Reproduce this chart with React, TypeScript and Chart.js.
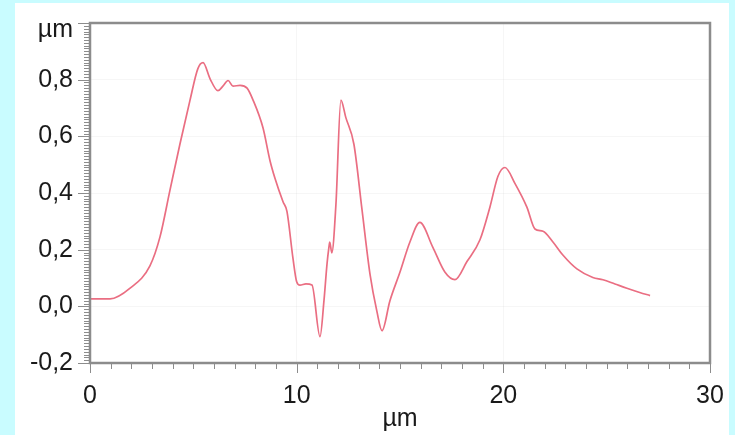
import React, { useEffect, useRef } from "react";
import { Chart, registerables } from "chart.js";

Chart.register(...registerables);

const xValues = [
  0, 0.97, 1.94, 2.9, 3.39, 3.87, 4.35, 4.84, 5.22, 5.47, 5.81, 6.19, 6.43, 6.68, 6.92, 7.26, 7.6, 7.89,
  8.37, 8.71, 8.95, 9.34, 9.53, 9.82, 10.0, 10.16, 10.45, 10.74, 11.13, 11.32, 11.47, 11.56, 11.6, 11.7,
  11.9, 12.14, 12.38, 12.77, 13.16, 13.55, 13.88, 14.13, 14.51, 15.0, 15.48, 15.96, 16.59, 17.17, 17.66,
  18.24, 18.87, 19.35, 19.74, 20.08, 20.56, 21.14, 21.53, 21.92, 22.4, 22.88, 23.56, 24.33, 24.82, 25.4,
  25.98, 26.6, 27.1,
];
const yValues = [
  0.026, 0.026, 0.064, 0.143, 0.246, 0.41, 0.572, 0.728, 0.839, 0.86, 0.803, 0.761, 0.777, 0.797, 0.777,
  0.78, 0.77, 0.728, 0.63, 0.514, 0.452, 0.369, 0.335, 0.17, 0.087, 0.075, 0.079, 0.075, -0.107, 0.019,
  0.151, 0.208, 0.227, 0.189, 0.36, 0.728, 0.666, 0.572, 0.342, 0.113, -0.017, -0.086, 0.019, 0.121, 0.227,
  0.296, 0.208, 0.121, 0.094, 0.158, 0.235, 0.35, 0.459, 0.49, 0.434, 0.35, 0.273, 0.265, 0.227, 0.181,
  0.132, 0.102, 0.094, 0.079, 0.064, 0.049, 0.038,
];

const xMin = 0;
const xMax = 30;
const xMajorStep = 10;
const xMinorStep = 1;
const yMin = -0.2;
const yMax = 1.0;
const yMajorStep = 0.2;
const yMinorStep = 0.01;
const unitLabel = "µm";

const FONT = "'Liberation Sans', Arial, sans-serif";
const AXIS_COLOR = "#8c8c8c";
const TEXT_COLOR = "#1a1a1a";

const frameAndTicks = {
  id: "frameAndTicks",
  afterDraw(chart: any) {
    const { ctx, chartArea, scales } = chart;
    const xs = scales.x;
    const ys = scales.y;
    ctx.save();
    ctx.strokeStyle = AXIS_COLOR;
    ctx.lineWidth = 1;
    const nY = Math.round((yMax - yMin) / yMinorStep);
    const majorEvery = Math.round(yMajorStep / yMinorStep);
    for (let i = 0; i <= nY; i++) {
      const v = yMin + i * yMinorStep;
      const py = Math.round(ys.getPixelForValue(v)) + 0.5;
      const len = i % majorEvery === 0 ? 12 : 6;
      ctx.beginPath();
      ctx.moveTo(chartArea.left - len, py);
      ctx.lineTo(chartArea.left, py);
      ctx.stroke();
    }
    const nX = Math.round((xMax - xMin) / xMinorStep);
    const xMajEvery = Math.round(xMajorStep / xMinorStep);
    for (let i = 0; i <= nX; i++) {
      const v = xMin + i * xMinorStep;
      const px = Math.round(xs.getPixelForValue(v)) + 0.5;
      const len = i % xMajEvery === 0 ? 10 : 6;
      ctx.beginPath();
      ctx.moveTo(px, chartArea.bottom);
      ctx.lineTo(px, chartArea.bottom + len);
      ctx.stroke();
    }
    ctx.lineWidth = 2.5;
    ctx.strokeRect(chartArea.left, chartArea.top, chartArea.right - chartArea.left, chartArea.bottom - chartArea.top);
    // unit label on top of the y axis
    ctx.fillStyle = TEXT_COLOR;
    ctx.font = `25px ${FONT}`;
    ctx.textAlign = "right";
    ctx.textBaseline = "middle";
    ctx.fillText(unitLabel, chartArea.left - 17, ys.getPixelForValue(yMax) + 7);
    ctx.restore();
  },
};

function App() {
  const canvasRef = useRef<HTMLCanvasElement | null>(null);

  useEffect(() => {
    if (!canvasRef.current) return;
    const points = xValues.map((x, i) => ({ x, y: yValues[i] }));
    const chart = new Chart(canvasRef.current, {
      type: "line",
      data: {
        datasets: [
          {
            data: points,
            borderColor: "rgb(234,110,130)",
            borderWidth: 1.7,
            pointRadius: 0,
            fill: false,
            cubicInterpolationMode: "monotone",
          },
        ],
      },
      options: {
        animation: false,
        responsive: false,
        maintainAspectRatio: false,
        layout: { padding: { left: 0, right: 25, top: 23, bottom: 1 } },
        plugins: { legend: { display: false }, tooltip: { enabled: false } },
        scales: {
          x: {
            type: "linear",
            min: xMin,
            max: xMax,
            border: { display: false },
            grid: { color: "rgba(0,0,0,0.035)", drawTicks: false },
            ticks: {
              stepSize: xMajorStep,
              padding: 18,
              color: TEXT_COLOR,
              font: { family: FONT, size: 25 },
              maxRotation: 0,
              callback: (v: any) => String(Math.round(Number(v))),
            },
            title: {
              display: true,
              text: unitLabel,
              color: TEXT_COLOR,
              font: { family: FONT, size: 25 },
              padding: { top: -4, bottom: 0 },
            },
            afterFit(scale: any) {
              scale.height = 71;
              scale.paddingLeft = 0;
              scale.paddingRight = 0;
            },
          },
          y: {
            type: "linear",
            min: yMin,
            max: yMax,
            border: { display: false },
            grid: { color: "rgba(0,0,0,0.035)", drawTicks: false },
            ticks: {
              stepSize: yMajorStep,
              padding: 17,
              color: TEXT_COLOR,
              font: { family: FONT, size: 25 },
              callback: (v: any) => {
                const r = Math.round(Number(v) * 10) / 10;
                if (Math.abs(r - yMax) < 1e-6) return "";
                return r.toFixed(1).replace(".", ",");
              },
            },
            afterFit(scale: any) {
              scale.width = 90;
              scale.paddingTop = 0;
              scale.paddingBottom = 0;
            },
          },
        },
      },
      plugins: [frameAndTicks],
    } as any);
    return () => chart.destroy();
  }, []);

  return (
    <div
      style={{
        position: "absolute",
        left: 0,
        top: 0,
        width: 735,
        height: 435,
        background: "#c9fcff",
        overflow: "hidden",
      }}
    >
      <div
        style={{
          position: "absolute",
          left: 15,
          top: 3,
          width: 714,
          height: 432,
          background: "#ffffff",
        }}
      />
      <canvas
        ref={canvasRef}
        width={735}
        height={435}
        style={{ position: "absolute", left: 0, top: 0, width: 735, height: 435 }}
      />
    </div>
  );
}

export default App;
